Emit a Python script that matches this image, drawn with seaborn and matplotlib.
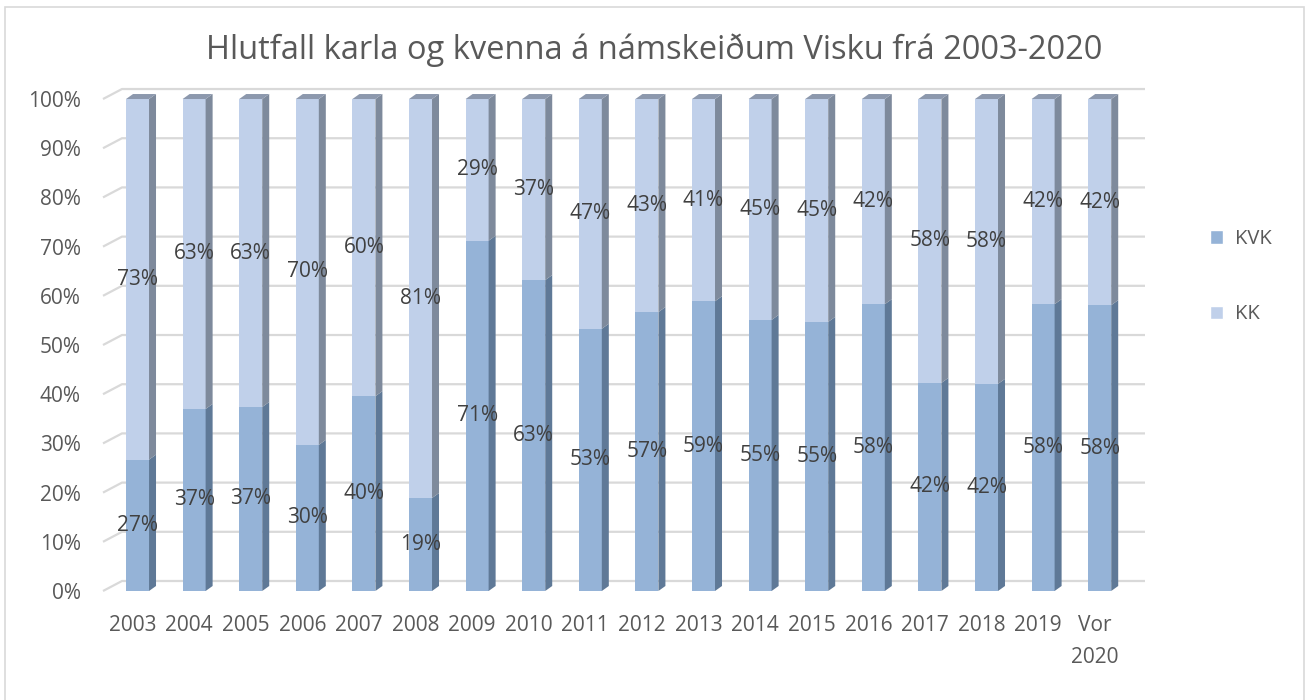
import numpy as np
import pandas as pd
import matplotlib
matplotlib.use("Agg")
import matplotlib.pyplot as plt
import seaborn as sns
from matplotlib.patches import Polygon, Patch, Rectangle
from matplotlib.transforms import ScaledTranslation

# data (share of women / men per year, %)
years = ["2003", "2004", "2005", "2006", "2007", "2008", "2009", "2010", "2011",
         "2012", "2013", "2014", "2015", "2016", "2017", "2018", "2019", "Vor\n2020"]
kvk = [26.7, 37.0, 37.4, 29.7, 39.6, 18.9, 71.2, 63.2, 53.3,
       56.7, 58.9, 55.1, 54.7, 58.3, 42.3, 42.1, 58.3, 58.1]
kk = [73.3, 63.0, 62.6, 70.3, 60.4, 81.1, 28.8, 36.8, 46.7,
      43.3, 41.1, 44.9, 45.3, 41.7, 57.7, 57.9, 41.7, 41.9]
yticks = list(range(0, 101, 10))

title = "Hlutfall karla og kvenna á námskeiðum Visku frá 2003-2020"

KVK_FRONT, KVK_SIDE = "#95B3D7", "#5F7997"
KK_FRONT, KK_SIDE, KK_TOP = "#C0D0EA", "#7E8A9C", "#8C98AD"
GRID = "#D9D9D9"
TXT = "#595959"

sns.set_style("white")
plt.rcParams["font.family"] = ["Open Sans", "DejaVu Sans"]

W, H = 1306, 700
fig = plt.figure(figsize=(W / 100, H / 100), dpi=100)
# axes box in pixels: left 103, right 1145, top 85, bottom 597
ax = fig.add_axes([103 / W, 1 - 597 / H, (1145 - 103) / W, (597 - 85) / H])

df = pd.DataFrame({"year": years, "kvk": kvk, "kk": kk})
df["total"] = df["kvk"] + df["kk"]

bar_w = 0.406
sns.barplot(data=df, x="year", y="total", color=KK_FRONT, width=bar_w,
            linewidth=0, saturation=1, ax=ax, zorder=2)
sns.barplot(data=df, x="year", y="kvk", color=KVK_FRONT, width=bar_w,
            linewidth=0, saturation=1, ax=ax, zorder=2)

ax.set_xlim(-0.61, 17.80)
ax.set_ylim(-1.22, 102.85)

# depth of the bars and of the back wall, in data units
px_x = 1 / 56.6
px_y = 1 / 4.92
bd_x, bd_y = 7 * px_x, 5 * px_y
wd_x, wd_y = 19 * px_x, 10 * px_y

# back wall gridlines and floor diagonals
x0, x1 = ax.get_xlim()
for v in yticks:
    ax.plot([x0, x0 + wd_x, x1], [v, v + wd_y, v + wd_y], color=GRID,
            lw=1.6, zorder=1, solid_capstyle="butt", clip_on=False)

n = len(years)
kk_bars = ax.patches[:n]
kvk_bars = ax.patches[n:2 * n]


def side(ax, xr, y0, y1, color):
    pts = [(xr, y0), (xr + bd_x, y0 + bd_y), (xr + bd_x, y1 + bd_y), (xr, y1)]
    ax.add_patch(Polygon(pts, closed=True, facecolor=color, edgecolor="none", zorder=2.5))


for b_kk, b_kvk in zip(kk_bars, kvk_bars):
    xl = b_kk.get_x()
    xr = xl + b_kk.get_width()
    top = b_kk.get_height()
    mid = b_kvk.get_height()
    side(ax, xr, 0, mid, KVK_SIDE)
    side(ax, xr, mid, top, KK_SIDE)
    pts = [(xl, top), (xl + bd_x, top + bd_y), (xr + bd_x, top + bd_y), (xr, top)]
    ax.add_patch(Polygon(pts, closed=True, facecolor=KK_TOP, edgecolor="none", zorder=2.5))

# data labels
for i, (a, b) in enumerate(zip(kvk, kk)):
    ax.text(i, a / 2, f"{round(a)}%", ha="center", va="center", fontsize=15,
            color="#404040", zorder=4)
    ax.text(i, a + b / 2, f"{round(b)}%", ha="center", va="center", fontsize=15,
            color="#404040", zorder=4)

ax.set_yticks(yticks)
ax.set_yticklabels([f"{v}%" for v in yticks])
ax.set_xticks(range(n))
ax.set_xticklabels(years)
ax.tick_params(axis="y", length=0, pad=16, labelsize=15, labelcolor=TXT)
ax.tick_params(axis="x", length=0, pad=13, labelsize=15, labelcolor=TXT)
shift = ScaledTranslation(-5 / 100, 0, fig.dpi_scale_trans)
for lab in ax.get_xticklabels():
    lab.set_transform(lab.get_transform() + shift)
    lab.set_multialignment("center")
    lab.set_linespacing(1.7)
ax.set_xlabel("")
ax.set_ylabel("")
sns.despine(ax=ax, left=True, bottom=True)

fig.text(654 / W, 1 - 50 / H, title, ha="center", va="center", fontsize=23.5, color=TXT)

handles = [Patch(facecolor=KVK_FRONT, label="KVK"), Patch(facecolor=KK_FRONT, label="KK")]
fig.legend(handles=handles, loc="upper left", bbox_to_anchor=(1210 / W, 1 - 229 / H),
           frameon=False, fontsize=14.5, handlelength=0.65, handleheight=0.65,
           handletextpad=0.6, labelspacing=2.75, borderpad=0, borderaxespad=0,
           labelcolor=TXT)

fig.patches.append(Rectangle((5 / W, -0.05), (1304 - 5) / W, 1.05 - 7 / H,
                             transform=fig.transFigure, fill=False,
                             edgecolor=GRID, lw=1.2))

fig.savefig("out.png", dpi=100)
